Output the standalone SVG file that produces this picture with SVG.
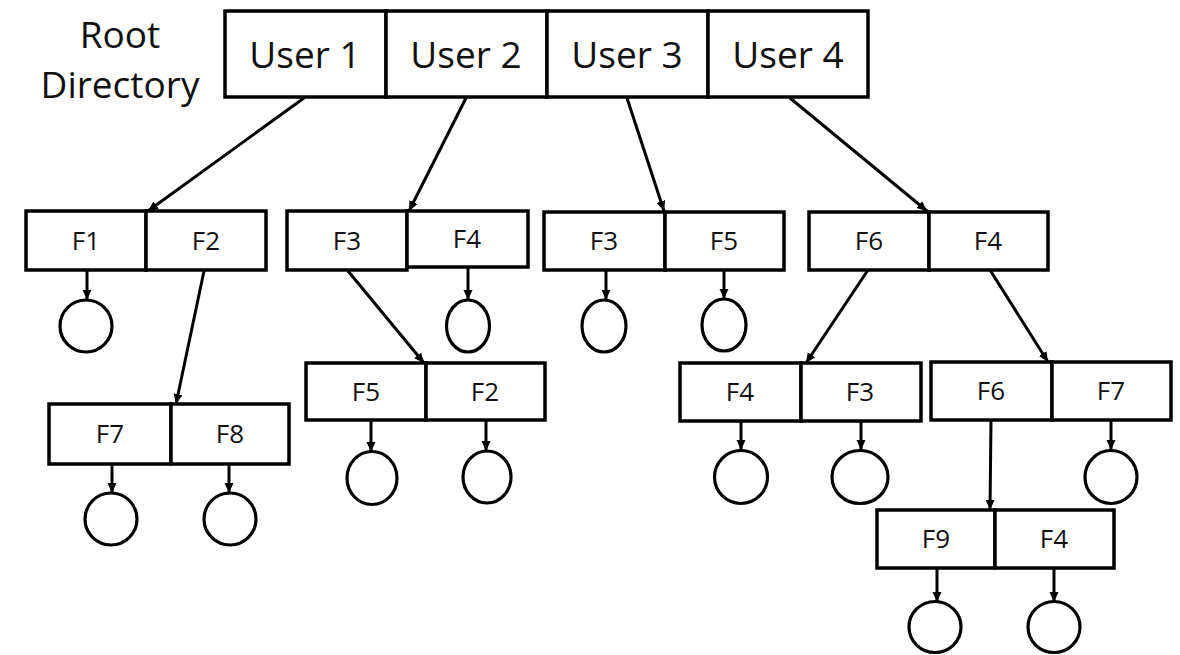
<svg xmlns="http://www.w3.org/2000/svg" width="1180" height="655" viewBox="0 0 1180 655">
<defs>
<marker id="ah" viewBox="0 0 10 10" refX="10" refY="5" markerWidth="10" markerHeight="10" markerUnits="userSpaceOnUse" orient="auto"><path d="M0,0.5 L10,5 L0,9.5 z" fill="#000"/></marker>
<style>
.box{fill:#fff;stroke:#000;stroke-width:3.5}
.c{fill:none;stroke:#000;stroke-width:3.2}
.ln{stroke:#000;stroke-width:3;fill:none;marker-end:url(#ah)}
.big{font-family:"Open Sans","Liberation Sans",sans-serif;font-size:37px;text-anchor:middle;fill:#111}
.lbl{font-family:"Open Sans","Liberation Sans",sans-serif;font-size:26px;text-anchor:middle;fill:#111}
</style>
</defs>
<rect width="1180" height="655" fill="#fff"/>
<g id="root-label">
<text class="big" x="120" y="48">Root</text>
<text class="big" x="120" y="98">Directory</text>
</g>
<g id="root">
<rect class="box" x="225" y="11" width="161" height="86"/>
<rect class="box" x="386" y="11" width="161" height="86"/>
<rect class="box" x="547" y="11" width="161" height="86"/>
<rect class="box" x="708" y="11" width="160" height="86"/>
<text class="big" x="305" y="68">User 1</text>
<text class="big" x="466" y="68">User 2</text>
<text class="big" x="627" y="68">User 3</text>
<text class="big" x="788" y="68">User 4</text>
</g>
<g id="u1">
<rect class="box" x="26" y="211" width="120" height="59"/>
<rect class="box" x="146" y="211" width="120" height="59"/>
<text class="lbl" x="86" y="250">F1</text>
<text class="lbl" x="206" y="250">F2</text>
</g>
<g id="u2">
<rect class="box" x="287" y="211" width="120" height="59"/>
<rect class="box" x="407" y="211" width="121" height="56"/>
<text class="lbl" x="347" y="250">F3</text>
<text class="lbl" x="467" y="248">F4</text>
</g>
<g id="u3">
<rect class="box" x="544" y="212" width="121" height="58"/>
<rect class="box" x="665" y="212" width="119" height="58"/>
<text class="lbl" x="604" y="250">F3</text>
<text class="lbl" x="724" y="250">F5</text>
</g>
<g id="u4">
<rect class="box" x="809" y="212" width="120" height="58"/>
<rect class="box" x="929" y="212" width="119" height="58"/>
<text class="lbl" x="869" y="250">F6</text>
<text class="lbl" x="988" y="250">F4</text>
</g>
<g id="u1-f2">
<rect class="box" x="49" y="404" width="122" height="60"/>
<rect class="box" x="171" y="404" width="118" height="60"/>
<text class="lbl" x="110" y="443">F7</text>
<text class="lbl" x="230" y="443">F8</text>
</g>
<g id="u2-f3">
<rect class="box" x="306" y="363" width="120" height="57"/>
<rect class="box" x="426" y="363" width="119" height="57"/>
<text class="lbl" x="366" y="401">F5</text>
<text class="lbl" x="485" y="401">F2</text>
</g>
<g id="u4-f6">
<rect class="box" x="680" y="363" width="121" height="58"/>
<rect class="box" x="801" y="363" width="120" height="58"/>
<text class="lbl" x="740" y="401">F4</text>
<text class="lbl" x="860" y="401">F3</text>
</g>
<g id="u4-f4">
<rect class="box" x="931" y="362" width="121" height="58"/>
<rect class="box" x="1052" y="362" width="119" height="58"/>
<text class="lbl" x="991" y="400">F6</text>
<text class="lbl" x="1111" y="400">F7</text>
</g>
<g id="u4-f4-f6">
<rect class="box" x="877" y="510" width="118" height="58"/>
<rect class="box" x="995" y="510" width="119" height="58"/>
<text class="lbl" x="936" y="548">F9</text>
<text class="lbl" x="1054" y="548">F4</text>
</g>
<g id="files">
<ellipse class="c" cx="86" cy="326" rx="26" ry="26"/>
<ellipse class="c" cx="468" cy="326" rx="21.5" ry="26"/>
<ellipse class="c" cx="604" cy="326" rx="22" ry="26"/>
<ellipse class="c" cx="724" cy="325" rx="22" ry="26"/>
<ellipse class="c" cx="111" cy="519" rx="26" ry="26"/>
<ellipse class="c" cx="230" cy="519" rx="26" ry="26"/>
<ellipse class="c" cx="372" cy="478" rx="25" ry="26.5"/>
<ellipse class="c" cx="487" cy="477" rx="24" ry="26"/>
<ellipse class="c" cx="741" cy="477" rx="26.5" ry="26.5"/>
<ellipse class="c" cx="860" cy="477" rx="28" ry="26.5"/>
<ellipse class="c" cx="1111" cy="477" rx="26" ry="26.5"/>
<ellipse class="c" cx="935" cy="627" rx="26" ry="25.5"/>
<ellipse class="c" cx="1054" cy="627" rx="26" ry="25.5"/>
</g>
<g id="connectors">
<line class="ln" x1="304" y1="98" x2="148" y2="211"/>
<line class="ln" x1="466" y1="98" x2="409" y2="211"/>
<line class="ln" x1="627" y1="98" x2="664" y2="211"/>
<line class="ln" x1="790" y1="98" x2="927" y2="211"/>
<line class="ln" x1="204" y1="271" x2="176" y2="404"/>
<line class="ln" x1="348" y1="271" x2="424" y2="363"/>
<line class="ln" x1="868" y1="270" x2="806" y2="363"/>
<line class="ln" x1="990" y1="270" x2="1048" y2="362"/>
<line class="ln" x1="991" y1="420" x2="990" y2="510"/>
<line class="ln" x1="87" y1="271" x2="87" y2="300"/>
<line class="ln" x1="468" y1="268" x2="468" y2="300"/>
<line class="ln" x1="606" y1="270" x2="606" y2="300"/>
<line class="ln" x1="724" y1="270" x2="724" y2="299"/>
<line class="ln" x1="112" y1="464" x2="112" y2="493"/>
<line class="ln" x1="229" y1="464" x2="229" y2="493"/>
<line class="ln" x1="371" y1="420" x2="371" y2="452"/>
<line class="ln" x1="486" y1="420" x2="486" y2="451"/>
<line class="ln" x1="741" y1="421" x2="741" y2="450"/>
<line class="ln" x1="861" y1="421" x2="861" y2="450"/>
<line class="ln" x1="1111" y1="420" x2="1111" y2="450"/>
<line class="ln" x1="937" y1="568" x2="937" y2="602"/>
<line class="ln" x1="1054" y1="568" x2="1054" y2="602"/>
</g>
</svg>
